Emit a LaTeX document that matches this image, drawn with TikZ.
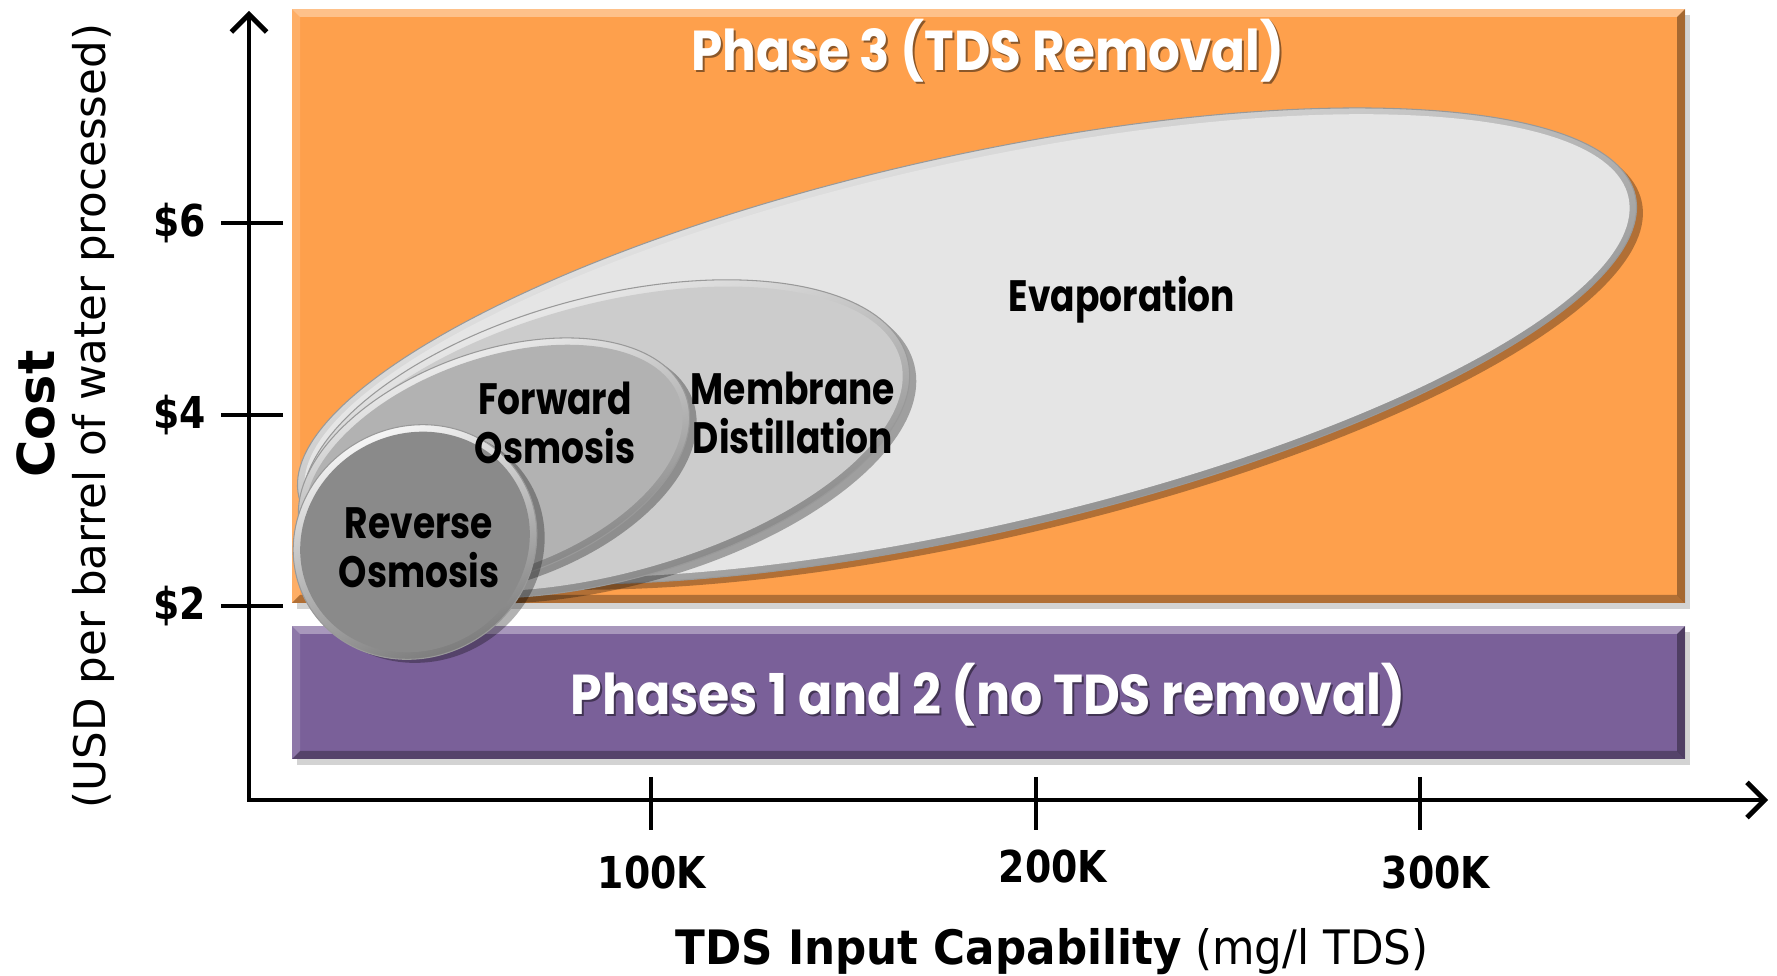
\documentclass[tikz,border=0pt]{standalone}
\usepackage{fontspec}
\setmainfont{DejaVu Sans}
\newfontfamily\gothic{Poppins}
\usetikzlibrary{arrows.meta, shadows, positioning}
\definecolor{Phase-3}{RGB}{254,160,76}
\definecolor{Phase-12}{RGB}{122,96,153}
\definecolor{Tech-evap}{RGB}{229,229,229}
\definecolor{Tech-md}{RGB}{204,204,204}
\definecolor{Tech-fo}{RGB}{178,178,178}
\definecolor{Tech-ro}{RGB}{138,138,138}
\newcommand{\narrow}[2][0.8]{\scalebox{#1}[1]{#2}}
% bevelled ellipse: centre, angle, x radius, y radius, fill
\newcommand{\blob}[5]{%
  \begin{scope}[shift={#1}, rotate=#2]
    \fill[black, opacity=0.3] (0.05,-0.07) ellipse [x radius=#3, y radius=#4];
    \shade[top color=white, bottom color=black!55, shading angle=20, draw=black!40, line width=0.3pt] (0,0) ellipse [x radius=#3, y radius=#4];
    \fill[#5] (0,0) ellipse [x radius=#3-0.07, y radius=#4-0.07];
  \end{scope}}
\begin{document}
\begin{tikzpicture}
          \tikzset{ band/.style  ={inner sep=0pt, outer sep=0pt, drop shadow={shadow xshift=0.05cm, shadow yshift=-0.06cm, opacity=0.35}, bevel} }
          \tikzset{ bevel/.style ={path picture={
              \fill[white, opacity=0.35] (path picture bounding box.north west) -- (path picture bounding box.north east) -- ++(-0.08,-0.08) -- ([shift={(0.08,-0.08)}]path picture bounding box.north west) -- cycle;
              \fill[white, opacity=0.15] (path picture bounding box.north west) -- (path picture bounding box.south west) -- ++(0.08,0.08) -- ([shift={(0.08,-0.08)}]path picture bounding box.north west) -- cycle;
              \fill[black, opacity=0.3] (path picture bounding box.south west) -- (path picture bounding box.south east) -- ++(-0.08,0.08) -- ([shift={(0.08,0.08)}]path picture bounding box.south west) -- cycle;
              \fill[black, opacity=0.35] (path picture bounding box.south east) -- (path picture bounding box.north east) -- ++(-0.08,-0.08) -- ([shift={(-0.08,0.08)}]path picture bounding box.south east) -- cycle;}} }
          \tikzset{ phase/.style ={font=\gothic\bfseries\fontsize{16}{16}\selectfont, text=white} }
          \tikzset{ psh/.style   ={font=\gothic\bfseries\fontsize{16}{16}\selectfont, text=black, opacity=0.45} }
          \tikzset{ tech/.style  ={font=\gothic\bfseries\fontsize{12.5}{13.8}\selectfont, align=center, text=black} }
          \tikzset{ axis/.style  ={line width=1.4pt, line join=miter, {Straight Barb[length=5pt, width=10pt]}-{Straight Barb[length=5pt, width=10pt]}} }
          \tikzset{ tck/.style   ={line width=1.4pt} }
          \tikzset{ tlbl/.style  ={font=\bfseries\fontsize{12.5}{12.5}\selectfont} }

          \useasboundingbox (0,0) rectangle (17.77,9.75);

          % phase bands
          \node[band, fill=Phase-3,  minimum width=13.93cm, minimum height=5.94cm] (p3)  at (9.885,6.69)  {};
          \node[band, fill=Phase-12, minimum width=13.93cm, minimum height=1.33cm] (p12) at (9.885,2.825) {};

          \node[psh  ] (p3_sh)  at (9.90,9.22) {\narrow[0.89]{Phase 3 (TDS Removal)}};
          \node[phase] (p3_lbl) at (9.88,9.24) {\narrow[0.89]{Phase 3 (TDS Removal)}};
          \node[psh  ] (p12_sh)  at (9.90,2.78) {\narrow[0.90]{Phases 1 and 2 (no TDS removal)}};
          \node[phase] (p12_lbl) at (9.88,2.80) {\narrow[0.90]{Phases 1 and 2 (no TDS removal)}};

          % technologies
          \blob{(9.67,6.29)}{12.7}{6.85}{1.89}{Tech-evap}
          \blob{(6.06,5.36)}{15}{3.12}{1.42}{Tech-md}
          \blob{(4.94,5.10)}{20}{2.04}{1.13}{Tech-fo}
          \blob{(4.15,4.33)}{30}{1.24}{1.15}{Tech-ro}

          \node[tech] (evap) at (11.22,6.75) {\narrow[0.82]{Evaporation}};
          \node[tech] (md)   at (7.93,5.62)  {\narrow[0.82]{Membrane}\\\narrow[0.82]{Distillation}};
          \node[tech] (fo)   at (5.55,5.52)  {\narrow[0.82]{Forward}\\\narrow[0.82]{Osmosis}};
          \node[tech] (ro)   at (4.19,4.27)  {\narrow[0.82]{Reverse}\\\narrow[0.82]{Osmosis}};

          % axes
          \coordinate (ytop) at (2.49,9.64);
          \coordinate (orig) at (2.49,1.75);
          \coordinate (xend) at (17.68,1.75);
          \draw[axis] (ytop) -- (orig) -- (xend);

          \foreach \yy/\lbl [count=\i] in {7.52/\$6, 5.60/\$4, 3.69/\$2}
            \draw[tck] (2.83,\yy) -- (2.21,\yy) node[tlbl, left=0.01cm] (ylbl\i) {\narrow[0.86]{\lbl}};
          \foreach \xx/\dx/\dy/\lbl [count=\i] in {6.51/0.01/0/100K, 10.36/0.17/0.06/200K, 14.20/0.16/0/300K}
            \draw[tck] (\xx,1.98) -- (\xx,1.45) node[tlbl, below=0.12cm, xshift=\dx cm, yshift=\dy cm] (xlbl\i) {\narrow[0.86]{\lbl}};

          \node (xtitle) at (10.52,0.23) {\fontsize{13.5}{13.5}\selectfont\narrow[0.92]{\textbf{TDS Input Capability} (mg/l TDS)}};
          \node[rotate=90] (ytitle) at (0.36,5.61) {\fontsize{14.5}{14.5}\selectfont\textbf{Cost}};
          \node[rotate=90] (yunit)  at (0.93,5.59) {\fontsize{12.4}{12.4}\selectfont (USD per barrel of water processed)};
\end{tikzpicture}
\end{document}
